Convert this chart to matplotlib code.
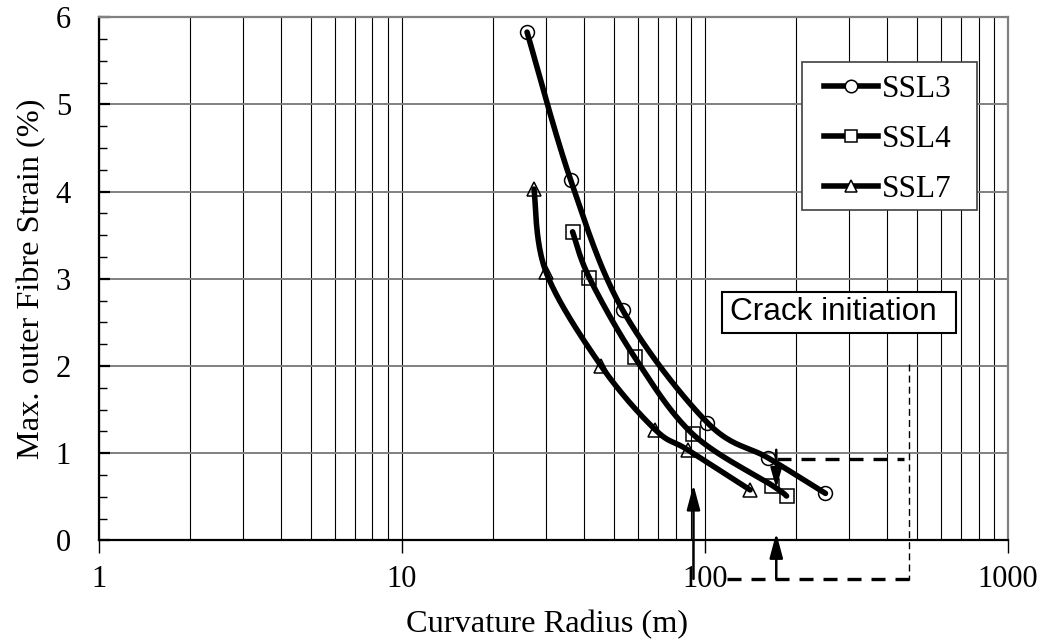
import numpy as np
import matplotlib
matplotlib.use("Agg")
import matplotlib.pyplot as plt
from matplotlib.ticker import LogLocator, FixedLocator, MultipleLocator, NullFormatter
from matplotlib.patches import Rectangle

plt.rcParams['font.family'] = ['Liberation Serif', 'DejaVu Serif']

# curvature radius (m) vs max. outer fibre strain (%)
radius_ssl3 = [25.9, 36.1, 53.6, 102, 162, 250]
strain_ssl3 = [5.83, 4.13, 2.64, 1.35, 0.945, 0.54]
radius_ssl4 = [36.6, 41.6, 58.7, 91.2, 167, 186]
strain_ssl4 = [3.54, 3.01, 2.10, 1.22, 0.63, 0.51]
radius_ssl7 = [27.3, 29.9, 45.5, 68.6, 87.7, 141]
strain_ssl7 = [4.03, 3.08, 2.00, 1.27, 1.04, 0.58]
series_names = ["SSL3", "SSL4", "SSL7"]
series_markers = ["o", "s", "^"]

# crack initiation guides
crack_strain = 0.937
crack_radius = [173, 455]
limit_radius = 473
limit_strain = [2.02, -0.45]
base_strain = -0.44
base_radius = [118.5, 473]
arrow_radius = [91.7, 172]
arrow_tip = [0.64, 0.086]
down_arrow = (172, 1.04, 0.60)


def smooth(ax, xs, ys, n=40):
    # bezier smoothing in screen space, like a spreadsheet "smoothed line"
    pts = ax.transData.transform(np.column_stack([xs, ys]))
    out = [pts[0]]
    t = np.linspace(0, 1, n)[1:, None]
    for i in range(len(pts) - 1):
        p0 = pts[max(i - 1, 0)]
        p1 = pts[i]
        p2 = pts[i + 1]
        p3 = pts[min(i + 2, len(pts) - 1)]
        c1 = p1 + (p2 - p0) / 6
        c2 = p2 - (p3 - p1) / 6
        seg = (1 - t)**3 * p1 + 3 * (1 - t)**2 * t * c1 + 3 * (1 - t) * t**2 * c2 + t**3 * p2
        out.extend(seg)
    res = ax.transData.inverted().transform(np.array(out))
    return res[:, 0], res[:, 1]


fig = plt.figure(figsize=(10.4, 6.4), dpi=100)
ax = fig.add_axes([0.0949, 0.1555, 0.8743, 0.8175])
ax.set_xscale('log')
ax.set_xlim(1, 1000)
ax.set_ylim(0, 6)

ax.xaxis.set_major_locator(FixedLocator([1, 10, 100, 1000]))
ax.xaxis.set_minor_locator(LogLocator(subs=np.arange(2, 10)))
ax.xaxis.set_minor_formatter(NullFormatter())
ax.set_xticklabels(["1", "10", "100", "1000"])
ax.yaxis.set_major_locator(MultipleLocator(1))
ax.yaxis.set_minor_locator(MultipleLocator(0.25))

ax.grid(which='both', axis='x', color='black', lw=0.8)
ax.grid(which='major', axis='y', color='#808080', lw=1.4)
ax.set_axisbelow(True)

ax.tick_params(axis='x', which='major', direction='out', length=9, width=1, pad=9, labelsize=22)
ax.tick_params(axis='x', which='minor', length=0)
ax.tick_params(axis='y', which='major', direction='in', length=8, width=1.6, pad=20, labelsize=22)
ax.tick_params(axis='y', which='minor', direction='in', length=6, width=1)

for side in ['left', 'bottom']:
    ax.spines[side].set_linewidth(1.6)
    ax.spines[side].set_color('black')
for side in ['top', 'right']:
    ax.spines[side].set_linewidth(1.6)
    ax.spines[side].set_color('#808080')

ax.set_xlabel("Curvature Radius (m)", fontsize=23.3)
ax.set_ylabel("Max. outer Fibre Strain (%)", fontsize=23.3)
ax.xaxis.set_label_coords(0.493, -0.133)
ax.yaxis.set_label_coords(-0.058, 0.5)

radii = [radius_ssl3, radius_ssl4, radius_ssl7]
strains = [strain_ssl3, strain_ssl4, strain_ssl7]
handles = []
for r, s, name, mk in zip(radii, strains, series_names, series_markers):
    sx, sy = smooth(ax, r, s)
    ax.plot(sx, sy, color='black', lw=4, solid_capstyle='round', zorder=3)
    ax.plot(r, s, ls='none', marker=mk, ms=10, mfc='none', mec='black', mew=1.1, zorder=4)
    h, = ax.plot([], [], color='black', lw=4, marker=mk, ms=9, mfc='white', mec='black', mew=1.1)
    handles.append(h)

# legend frame drawn separately so the padding can be wider than tall
ax.add_patch(Rectangle((0.7735, 0.6317), 0.1925, 0.2829, transform=ax.transAxes,
                       facecolor='white', edgecolor='#404040', lw=1.2, zorder=5))
leg = ax.legend(handles, series_names, loc='upper left', bbox_to_anchor=(0.7975, 0.890),
                fontsize=22.5, frameon=False, numpoints=1, handlelength=1.72,
                handletextpad=0.15, labelspacing=0.68, borderpad=0, borderaxespad=0)
leg.set_zorder(6)

# crack initiation box
ax.add_patch(Rectangle((0.6855, 0.396), 0.2573, 0.0795, transform=ax.transAxes,
                       facecolor='white', edgecolor='black', lw=1.5, zorder=5))
ax.text(0.6943, 0.4367, "Crack initiation", transform=ax.transAxes, fontsize=22.7,
        family=['Liberation Sans', 'DejaVu Sans'], va='center', ha='left', zorder=6)

# dashed guides
ax.plot(crack_radius, [crack_strain, crack_strain], color='black', lw=2.4,
        ls=(0, (4.2, 3)), zorder=5, clip_on=False)
ax.plot(base_radius, [base_strain, base_strain], color='black', lw=2.4,
        ls=(0, (4.2, 3)), zorder=5, clip_on=False)
ax.plot([limit_radius, limit_radius], limit_strain, color='black', lw=1,
        ls=(0, (5, 3)), zorder=5, clip_on=False)

# arrows
head = '-|>,head_length=0.75,head_width=0.2'
for r, tip in zip(arrow_radius, arrow_tip):
    ax.annotate('', xy=(r, tip), xytext=(r, base_strain), annotation_clip=False,
                arrowprops=dict(arrowstyle=head, color='black', lw=1.8,
                                mutation_scale=20, shrinkA=0, shrinkB=0), zorder=5)
ax.annotate('', xy=(down_arrow[0], down_arrow[2]), xytext=(down_arrow[0], down_arrow[1]),
            annotation_clip=False,
            arrowprops=dict(arrowstyle='-|>,head_length=0.6,head_width=0.17', color='black',
                            lw=1.8, mutation_scale=20, shrinkA=0, shrinkB=0), zorder=5)

fig.savefig("out.png", dpi=100)
